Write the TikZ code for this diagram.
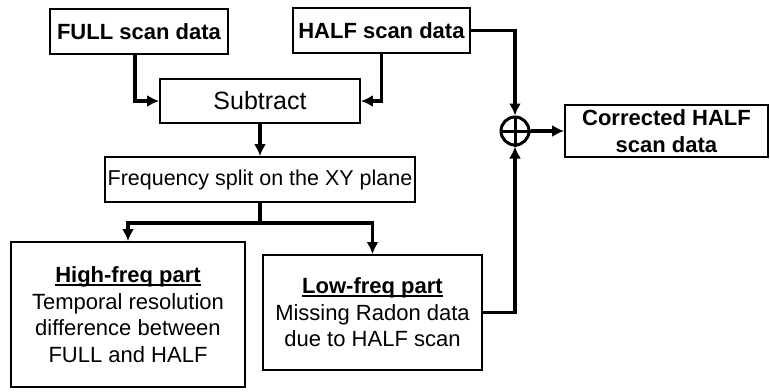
\documentclass[tikz,border=0pt]{standalone}
\usepackage{fontspec}
\setmainfont{Liberation Sans}
\usetikzlibrary{arrows.meta}

% boxes, connectors and the summing junction
\tikzset{
	blk/.style={draw,line width=1.8pt,inner sep=0pt,align=center,
		font=\fontsize{22}{26.5}\selectfont},
	flow/.style={line width=3.5pt,-{Latex[length=12pt,width=12pt]}},
	junction/.style={draw,shape=circle,line width=3pt,minimum size=28pt,inner sep=0pt},
}
\newcommand{\bandtitle}[1]{\setbox0=\hbox{\bfseries #1}\rlap{\rule[-3pt]{\wd0}{1.8pt}}\box0}

\begin{document}
\begin{tikzpicture}[x=1pt,y=-1pt]
	\useasboundingbox (0,0) rectangle (770,391);

	\draw (139,31.5) node (full) [blk,minimum width=178pt,minimum height=45pt] {\textbf{FULL scan data}};
	\draw (381.5,30.5) node (half) [blk,minimum width=177pt,minimum height=45pt] {\textbf{HALF scan data}};
	\draw (260,101) node (sub) [blk,minimum width=200pt,minimum height=44pt,font=\fontsize{25}{30}\selectfont] {Subtract};
	\draw (260,179.5) node (freq) [blk,minimum width=310pt,minimum height=45pt,font=\fontsize{21.5}{26}\selectfont] {Frequency split on the XY plane};
	\draw (128,314.5) node (high) [blk,minimum width=234pt,minimum height=145pt]
		{\bandtitle{High-freq part}\\Temporal resolution\\difference between\\FULL and HALF};
	\draw (372.5,312.5) node (low) [blk,minimum width=219pt,minimum height=115pt]
		{\bandtitle{Low-freq part}\\Missing Radon data\\due to HALF scan};
	\draw (515,131) node (sum) [junction] {};
	\draw[line width=3pt] (sum.north) -- (sum.south) (sum.west) -- (sum.east);
	\draw (666.5,131) node (corr) [blk,minimum width=203pt,minimum height=52pt] {\textbf{Corrected HALF}\\\textbf{scan data}};

	\draw[flow] ([xshift=-4pt]full.south) |- (sub.west);
	\draw[flow] (half.south) |- (sub.east);
	\draw[flow] (sub) -- (freq);
	\draw[line width=3.5pt] (freq.south) -- ++(0,20) coordinate (split);
	\draw[flow] (split) -| (high.north);
	\draw[flow] (split) -| (low.north);
	\draw[flow] (half.east) -| (sum.north);
	\draw[flow] (low.east) -| (sum.south);
	\draw[flow] (sum) -- (corr);
\end{tikzpicture}
\end{document}
